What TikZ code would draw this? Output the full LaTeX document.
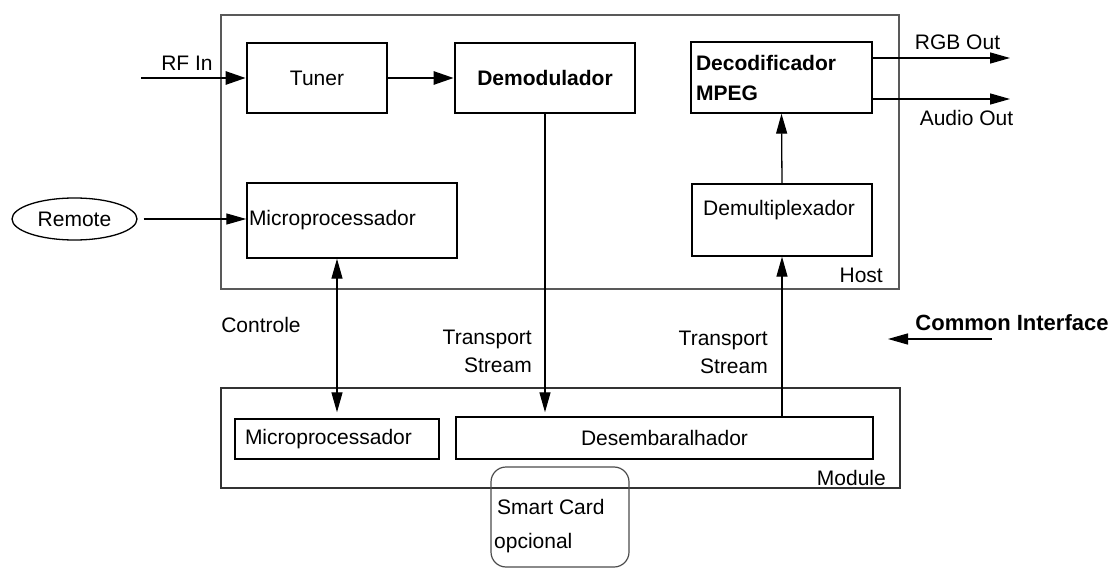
\documentclass[tikz,border=0pt]{standalone}
\usepackage{fontspec}
\setmainfont{Liberation Sans}
\usetikzlibrary{arrows.meta,shapes.geometric}
\newcommand\dfont{\fontsize{21}{28}\selectfont}
\begin{document}
\begin{tikzpicture}[x=1pt,y=-1pt,
  every node/.style={font=\dfont, inner sep=0pt},
  box/.style={draw, line width=1.4pt},
  heavybox/.style={draw, line width=2.6pt},
  frame/.style={draw=black!65, line width=1.6pt},
  arr/.style={line width=1.3pt, -{Triangle[length=20pt,width=11pt]}},
  dblarr/.style={line width=1.3pt, {Triangle[length=20pt,width=11pt]}-{Triangle[length=20pt,width=11pt]}},
  heavyarr/.style={line width=2.6pt, -{Triangle[length=20pt,width=13pt]}},
]
\useasboundingbox (0,0) rectangle (1113,569);

% outer frames
\node[frame, minimum width=678pt, minimum height=274pt] (host) at (560,152) {};
\node[frame, draw=black!80, minimum width=679pt, minimum height=100pt] (module) at (560.5,438) {};

% host blocks
\node[heavybox, minimum width=140pt, minimum height=70pt] (tuner) at (317,78) {Tuner};
\node[heavybox, minimum width=180pt, minimum height=70pt, font=\dfont\bfseries] (demod) at (545,78) {Demodulador};
\node[box, minimum width=181pt, minimum height=71pt, text width=171pt, inner xsep=5pt, align=left, font=\dfont\bfseries] (deco) at (781.5,77.5) {Decodificador\\[2pt]MPEG};
\node[box, minimum width=210pt, minimum height=75pt, text width=206pt, inner xsep=2pt, align=left] (microH) at (352,220.5) {Microprocessador};
\node[box, minimum width=180pt, minimum height=72pt] (demux) at (782,220) {};
\node[anchor=west] (demuxtxt) at (703,210) {Demultiplexador};

% module blocks
\node[box, minimum width=204pt, minimum height=40pt, text width=184pt, inner xsep=10pt, align=left] (microM) at (337,439) {Microprocessador};
\node[box, minimum width=417pt, minimum height=42pt] (desemb) at (664.5,438) {Desembaralhador};

% smart card
\node[draw=black!70, line width=1.2pt, rounded corners=15pt, minimum width=138pt, minimum height=100pt] (smart) at (560,517) {};
\node[anchor=west] (smarttxt) at (497,507) {Smart Card};
\node[anchor=west] (optxt) at (494,543) {opcional};

% remote control
\node[draw, ellipse, line width=1.3pt, minimum width=125pt, minimum height=42pt] (remote) at (74.5,219) {Remote};

% connectors
\coordinate (rfin) at (141,78);
\draw[heavyarr] (rfin) -- (tuner.west);
\draw[heavyarr] (tuner) -- (demod);
\draw[arr, shorten <=6pt] (remote.east) -- (remote.east -| microH.west);
\draw[dblarr, shorten >=6pt] (microM.north |- microH.south) -- (microM.north);
\draw[arr, shorten >=4pt] (demod.south) -- (demod.south |- desemb.north);
\draw[arr] (demux.south |- desemb.north) -- (demux.south);
\draw[arr] (demux.north) -- (deco.south);
\coordinate (rgbend) at (1010,58);
\coordinate (audend) at (1010,99);
\draw[arr] (deco.east |- rgbend) -- (rgbend);
\draw[arr] (deco.east |- audend) -- (audend);
\coordinate (cistart) at (992,339);
\coordinate (ciend) at (888,339);
\draw[arr] (cistart) -- (ciend);

% labels
\node (rflbl) at (187,63) {RF In};
\node (rgblbl) at (957.5,42) {RGB Out};
\node (audlbl) at (966.5,118) {Audio Out};
\node (ctrl) at (261,325) {Controle};
\node[anchor=east, align=right] (tsleft) at (532,351) {Transport\\Stream};
\node[anchor=east, align=right] (tsright) at (768,352) {Transport\\Stream};
\node[font=\fontsize{22}{28}\selectfont\bfseries] (ci) at (1012,323) {Common Interface};
\node[anchor=east] (hostlbl) at (883,275) {Host};
\node[anchor=east] (modlbl) at (886,478) {Module};
\end{tikzpicture}
\end{document}
